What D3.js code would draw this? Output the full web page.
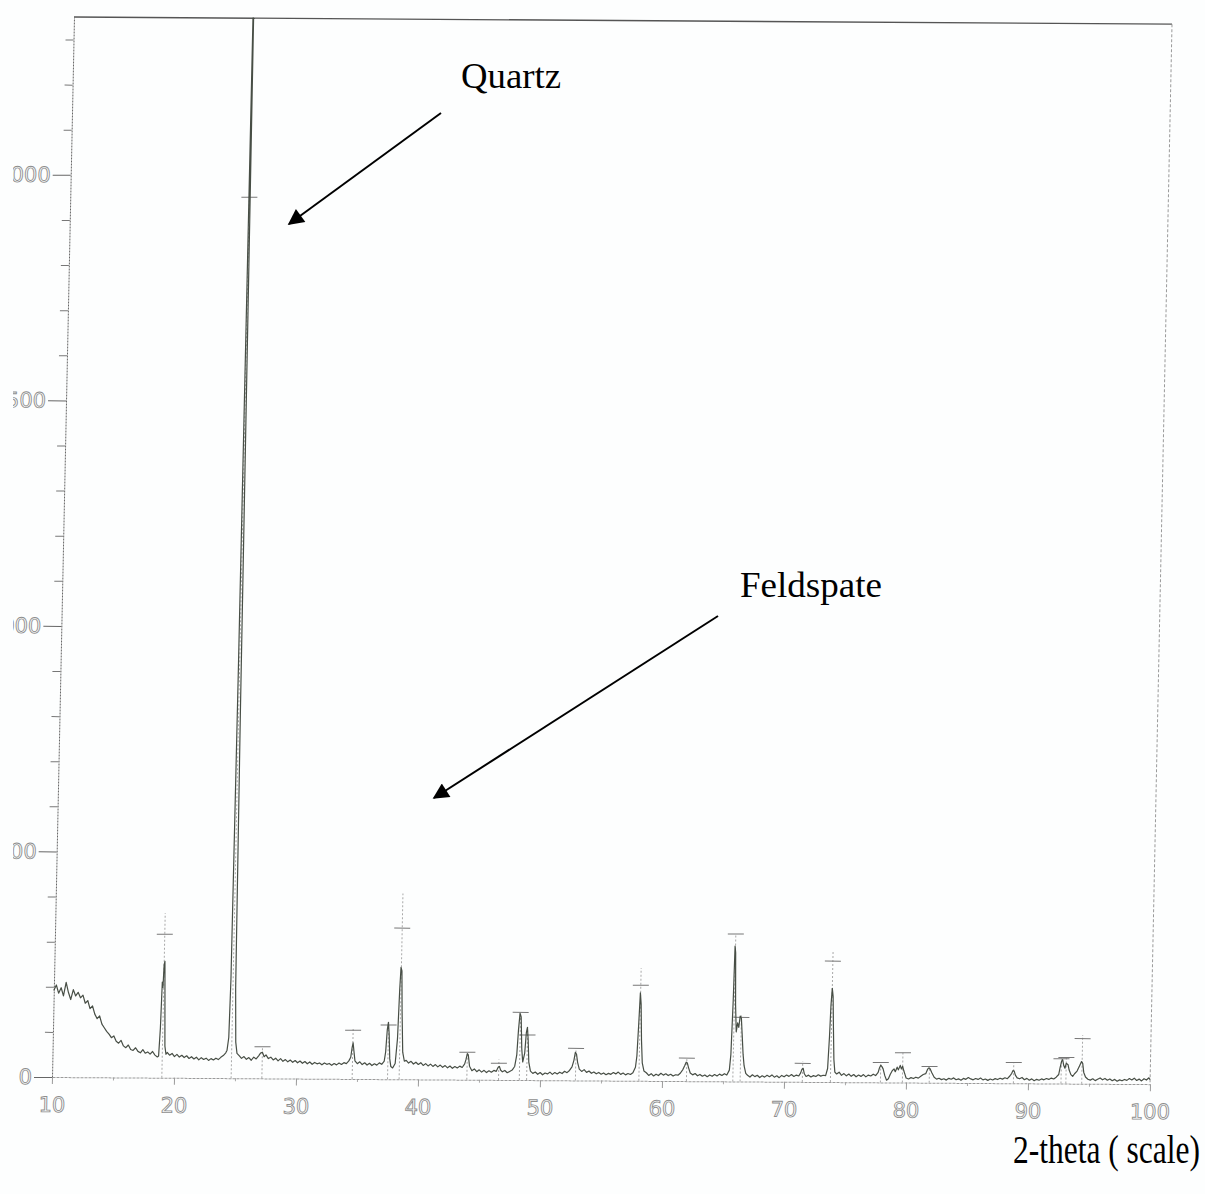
<!DOCTYPE html>
<html>
<head>
<meta charset="utf-8">
<script src="https://cdn.jsdelivr.net/npm/d3@7"></script>
<style>
  html, body { margin: 0; padding: 0; background: #fdfefe; }
  svg { display: block; }
</style>
</head>
<body>
<svg id="chart" width="1205" height="1194"></svg>
<script>
// Diffractogram: [2-theta (deg), counts]
const scan = [
  [10.0,192],[10.2,204],[10.4,186],[10.6,198],[10.8,180],[11.0,210],[11.2,188],[11.4,172],[11.6,194],[11.8,180],
  [12.0,188],[12.2,176],[12.4,182],[12.6,164],[12.8,170],[13.0,152],[13.2,158],[13.4,140],[13.6,130],[13.8,136],
  [14.0,118],[14.2,110],[14.4,102],[14.6,96],[14.8,88],[15.0,92],[15.2,80],[15.4,76],[15.6,82],[15.8,70],
  [16.0,66],[16.2,72],[16.4,62],[16.6,60],[16.8,66],[17.0,58],[17.2,55],[17.4,62],[17.6,54],[17.8,57],
  [18.0,52],[18.2,58],[18.4,50],[18.6,46],
  [18.7,48],[18.8,110],[18.88,212],[18.94,200],[19.0,250],[19.06,258],[19.12,180],[19.2,70],[19.3,52],
  [19.4,56],[19.6,50],[19.8,54],[20.0,47],[20.2,52],[20.4,46],[20.6,50],[20.8,45],[21.0,49],[21.2,43],
  [21.4,47],[21.6,42],[21.8,46],[22.0,40],[22.2,45],[22.4,41],[22.6,44],[22.8,39],[23.0,43],[23.2,40],
  [23.4,44],[23.6,41],[23.8,46],[24.0,50],[24.2,56],[24.3,62],
  [24.42,90],[24.5,220],[24.58,900],[24.67,2450],[24.72,2450],[24.82,800],[24.9,200],[25.0,80],[25.12,55],
  [25.3,50],[25.5,44],[25.7,48],[25.9,42],[26.1,46],[26.3,40],[26.5,47],[26.7,43],[26.9,50],[27.05,56],
  [27.2,58],[27.35,48],[27.5,52],[27.7,44],[27.9,47],[28.1,41],[28.3,45],[28.5,39],[28.7,44],[28.9,38],
  [29.1,42],[29.3,37],[29.5,41],[29.7,36],[29.9,40],[30.1,35],[30.3,39],[30.5,34],[30.7,38],[30.9,33],
  [31.1,37],[31.3,32],[31.5,36],[31.7,33],[31.9,35],[32.1,31],[32.3,35],[32.5,32],[32.7,34],[32.9,30],
  [33.1,34],[33.3,31],[33.5,35],[33.7,32],[33.9,36],[34.1,34],[34.3,40],
  [34.45,48],[34.55,70],[34.62,80],[34.7,62],[34.8,40],
  [35.0,34],[35.2,38],[35.4,32],[35.6,36],[35.8,31],[36.0,35],[36.2,30],[36.4,34],[36.6,31],[36.8,36],
  [37.0,33],[37.2,40],
  [37.3,60],[37.4,110],[37.48,126],[37.56,100],[37.65,45],[37.75,28],[37.9,25],
  [38.1,35],[38.25,90],[38.35,200],[38.42,248],[38.5,240],[38.58,150],[38.7,60],[38.85,40],
  [39.0,42],[39.2,36],[39.4,40],[39.6,34],[39.8,38],[40.0,33],[40.2,37],[40.4,31],[40.6,35],[40.8,30],
  [41.0,34],[41.2,29],[41.4,33],[41.6,28],[41.8,32],[42.0,27],[42.2,31],[42.4,26],[42.6,30],[42.8,25],
  [43.0,29],[43.2,26],[43.4,30],[43.6,27],[43.8,35],
  [43.9,45],[44.0,58],[44.08,55],[44.2,30],
  [44.4,20],[44.6,24],[44.8,18],[45.0,22],[45.2,17],[45.4,21],[45.6,16],[45.8,20],[46.0,17],[46.2,21],
  [46.4,19],[46.55,28],[46.65,30],[46.75,22],[46.9,18],[47.1,21],[47.3,16],[47.5,19],[47.7,22],[47.9,30],
  [48.05,55],[48.15,110],[48.25,148],[48.35,140],[48.45,70],[48.55,40],[48.7,60],[48.8,105],[48.88,117],
  [48.96,90],[49.05,40],[49.2,20],
  [49.4,15],[49.6,18],[49.8,13],[50.0,17],[50.2,12],[50.4,16],[50.6,14],[50.8,18],[51.0,13],[51.2,17],
  [51.4,14],[51.6,18],[51.8,15],[52.0,20],[52.2,17],[52.4,22],[52.6,30],
  [52.75,45],[52.85,62],[52.95,58],[53.05,40],[53.2,25],
  [53.4,20],[53.6,24],[53.8,18],[54.0,21],[54.2,16],[54.4,19],[54.6,15],[54.8,18],[55.0,14],[55.2,17],
  [55.4,13],[55.6,16],[55.8,14],[56.0,18],[56.2,15],[56.4,19],[56.6,14],[56.8,17],[57.0,13],[57.2,16],
  [57.4,14],[57.6,18],[57.8,30],
  [57.9,55],[58.0,130],[58.08,195],[58.16,170],[58.25,90],[58.35,40],[58.5,22],
  [58.7,18],[58.9,12],[59.1,16],[59.3,11],[59.5,15],[59.7,12],[59.9,17],[60.1,13],[60.3,16],[60.5,12],
  [60.7,15],[60.9,11],[61.1,14],[61.3,13],[61.5,18],[61.7,26],
  [61.85,35],[61.95,42],[62.05,40],[62.15,30],[62.3,18],
  [62.5,14],[62.7,17],[62.9,12],[63.1,15],[63.3,11],[63.5,14],[63.7,10],[63.9,14],[64.1,11],[64.3,15],
  [64.5,12],[64.7,16],[64.9,13],[65.1,17],[65.3,14],[65.5,25],
  [65.6,60],[65.7,180],[65.76,300],[65.82,285],[65.9,170],[66.0,110],[66.1,130],[66.2,120],[66.3,145],
  [66.4,140],[66.5,100],[66.6,60],[66.7,35],[66.85,18],
  [67.0,14],[67.2,10],[67.4,15],[67.6,11],[67.8,14],[68.0,9],[68.2,13],[68.4,10],[68.6,14],[68.8,11],
  [69.0,15],[69.2,10],[69.4,13],[69.6,9],[69.8,14],[70.0,11],[70.2,15],[70.4,12],[70.6,16],[70.8,12],
  [71.0,15],[71.2,13],[71.35,20],
  [71.45,28],[71.55,30],[71.65,18],[71.8,12],
  [72.0,15],[72.2,11],[72.4,14],[72.6,12],[72.8,16],[73.0,13],[73.2,15],[73.4,14],[73.55,30],
  [73.65,100],[73.72,170],[73.8,208],[73.88,190],[73.96,120],[74.05,50],[74.15,22],
  [74.3,18],[74.5,22],[74.7,15],[74.9,19],[75.1,14],[75.3,18],[75.5,13],[75.7,17],[75.9,12],[76.1,16],
  [76.3,13],[76.5,17],[76.7,12],[76.9,16],[77.1,14],[77.3,18],[77.5,15],[77.7,22],
  [77.8,32],[77.9,38],[78.0,35],[78.1,30],[78.25,15],[78.4,5],[78.55,8],[78.7,18],[78.85,26],
  [79.0,30],[79.1,24],[79.25,34],[79.35,28],[79.5,38],[79.6,30],[79.7,36],[79.8,26],[79.9,18],
  [80.0,10],[80.2,8],[80.4,11],[80.6,9],[80.8,12],[81.0,10],[81.2,14],[81.4,18],[81.6,20],
  [81.75,30],[81.85,33],[81.95,31],[82.1,22],[82.3,12],
  [82.5,8],[82.7,10],[82.9,7],[83.1,9],[83.3,6],[83.5,10],[83.7,8],[83.9,11],[84.1,7],[84.3,9],
  [84.5,6],[84.7,10],[84.9,8],[85.1,12],[85.3,9],[85.5,7],[85.7,10],[85.9,8],[86.1,11],[86.3,7],
  [86.5,9],[86.7,6],[86.9,9],[87.1,7],[87.3,10],[87.5,8],[87.7,11],[87.9,9],[88.1,12],[88.3,10],
  [88.5,16],[88.65,22],[88.75,28],[88.85,27],[88.95,18],
  [89.1,12],[89.3,10],[89.5,13],[89.7,8],[89.9,11],[90.1,7],[90.3,10],[90.5,6],[90.7,9],[90.9,7],
  [91.1,10],[91.3,8],[91.5,11],[91.7,9],[91.9,12],[92.1,10],[92.3,14],[92.5,20],
  [92.6,35],[92.72,50],[92.8,53],[92.9,40],[93.0,34],[93.1,45],[93.25,42],[93.35,30],[93.5,20],
  [93.65,16],[93.8,22],[94.0,28],[94.2,40],[94.35,49],[94.45,45],[94.55,25],[94.7,15],[94.9,10],
  [95.1,8],[95.3,11],[95.5,7],[95.7,10],[95.9,13],[96.1,9],[96.3,12],[96.5,8],[96.7,11],[96.9,7],
  [97.1,10],[97.3,6],[97.5,9],[97.7,7],[97.9,10],[98.1,8],[98.3,12],[98.5,9],[98.7,13],[98.9,8],
  [99.1,11],[99.3,7],[99.5,12],[99.7,9],[99.9,14],[100.0,10]
];

// Reference peak markers: [2-theta, bar level, top of stick]
const peakMarks = [
  [19.0,318,365],[24.68,1953,1995],[27.2,70,70],[34.6,108,112],[37.5,120,126],[38.45,335,412],
  [44.0,61,61],[46.6,37,45],[48.3,150,150],[48.9,100,117],[52.9,71,71],[58.1,212,250],
  [62.0,51,51],[65.8,327,327],[66.4,142,148],[71.5,41,45],[73.8,268,292],[77.9,44,44],
  [79.7,66,66],[81.9,36,36],[88.8,46,46],[92.7,55,55],[93.1,58,58],[94.4,100,108]
];

const xMajor = [10,20,30,40,50,60,70,80,90,100];
const xMinor = [15,25,35,45,55,65,75,85,95];
const yMajor = [0,500,1000,1500,2000];
const yMinor = [100,200,300,400,600,700,800,900,1100,1200,1300,1400,1600,1700,1800,1900,2100,2200,2300];

const annotations = [
  { text: "Quartz",    x: 461, y: 88,  len: 100, from: [441,113], to: [289,224] },
  { text: "Feldspate", x: 740, y: 597, len: 142, from: [718,616], to: [434,798] }
];
const xTitle = "2-theta ( scale)";

const W = 1098, H = 1060;
const x = d3.scaleLinear().domain([10, 100]).range([0, W]);
const y = d3.scaleLinear().domain([0, 2350]).range([H, 0]).clamp(true);

const svg = d3.select("#chart");
svg.append("rect").attr("width", 1205).attr("height", 1194).attr("fill", "#fdfefe");

const defs = svg.append("defs");
defs.append("clipPath").attr("id", "pageEdge")
  .append("rect").attr("x", 13).attr("y", 0).attr("width", 1192).attr("height", 1194);
defs.append("marker").attr("id", "head")
  .attr("viewBox", "0 0 10 10").attr("refX", 9).attr("refY", 5)
  .attr("markerWidth", 9).attr("markerHeight", 8).attr("markerUnits", "strokeWidth")
  .attr("orient", "auto")
  .append("path").attr("d", "M0,0 L10,5 L0,10 Z").attr("fill", "#000");

// The printed plot sits slightly skewed on the sheet
const outer = svg.append("g").attr("clip-path", "url(#pageEdge)");
const plot = outer.append("g").attr("transform", "matrix(1,0.0065,-0.02075,1,74,17)");

// frame
plot.append("line").attr("x1", 0).attr("y1", 0).attr("x2", W).attr("y2", 0)
  .attr("stroke", "#555").attr("stroke-width", 1.4);
plot.append("line").attr("x1", W).attr("y1", 0).attr("x2", W).attr("y2", H)
  .attr("stroke", "#999").attr("stroke-width", 1).attr("stroke-dasharray", "3,2");

// axes
function styleAxis(g, color, dash) {
  g.select(".domain").attr("stroke", color).attr("stroke-dasharray", dash);
  g.selectAll(".tick line").attr("stroke", color);
  g.selectAll(".tick text")
    .attr("font-family", "DejaVu Sans").attr("font-size", 21)
    .attr("fill", "none").attr("stroke", "#8e8e8e").attr("stroke-width", 0.9);
}
const yAxisMinor = plot.append("g")
  .call(d3.axisLeft(y).tickValues(yMinor).tickSize(8).tickSizeOuter(0).tickFormat(""));
yAxisMinor.select(".domain").remove();
yAxisMinor.selectAll(".tick line").attr("stroke", "#777");
const yAxis = plot.append("g")
  .call(d3.axisLeft(y).tickValues(yMajor).tickSize(18).tickSizeOuter(0).tickPadding(2).tickFormat(d3.format("d")));
styleAxis(yAxis, "#666", "2,1");

const xAxisMinor = plot.append("g").attr("transform", `translate(0,${H})`)
  .call(d3.axisBottom(x).tickValues(xMinor).tickSize(3).tickSizeOuter(0).tickFormat(""));
xAxisMinor.select(".domain").remove();
xAxisMinor.selectAll(".tick line").attr("stroke", "#aaa");
const xAxis = plot.append("g").attr("transform", `translate(0,${H})`)
  .call(d3.axisBottom(x).tickValues(xMajor).tickSize(7).tickSizeOuter(0).tickPadding(13));
styleAxis(xAxis, "#9a9a9a", "3,1");

// peak reference sticks
const marks = plot.append("g");
marks.selectAll("line.stick").data(peakMarks).join("line").attr("class", "stick")
  .attr("x1", d => x(d[0])).attr("x2", d => x(d[0]))
  .attr("y1", y(0)).attr("y2", d => y(d[2]))
  .attr("stroke", "#a8a8a8").attr("stroke-width", 1).attr("stroke-dasharray", "2,2");
marks.selectAll("line.bar").data(peakMarks).join("line").attr("class", "bar")
  .attr("x1", d => x(d[0]) - 8).attr("x2", d => x(d[0]) + 8)
  .attr("y1", d => y(d[1])).attr("y2", d => y(d[1]))
  .attr("stroke", "#777").attr("stroke-width", 1);

// intensity trace
const line = d3.line().x(d => x(d[0])).y(d => y(d[1]));
plot.append("path").datum(scan)
  .attr("d", line).attr("fill", "none")
  .attr("stroke", "#474e45").attr("stroke-width", 1.2).attr("stroke-linejoin", "round");

// annotations
const notes = svg.append("g");
notes.selectAll("line").data(annotations).join("line")
  .attr("x1", d => d.from[0]).attr("y1", d => d.from[1])
  .attr("x2", d => d.to[0]).attr("y2", d => d.to[1])
  .attr("stroke", "#000").attr("stroke-width", 2).attr("marker-end", "url(#head)");
notes.selectAll("text").data(annotations).join("text")
  .attr("x", d => d.x).attr("y", d => d.y)
  .attr("textLength", d => d.len).attr("lengthAdjust", "spacingAndGlyphs")
  .attr("font-family", "Liberation Serif").attr("font-size", 36).attr("fill", "#000")
  .text(d => d.text);

svg.append("text")
  .attr("x", 1013).attr("y", 1163)
  .attr("textLength", 187).attr("lengthAdjust", "spacingAndGlyphs")
  .attr("font-family", "Liberation Serif").attr("font-size", 40).attr("fill", "#000")
  .text(xTitle);
</script>
</body>
</html>
